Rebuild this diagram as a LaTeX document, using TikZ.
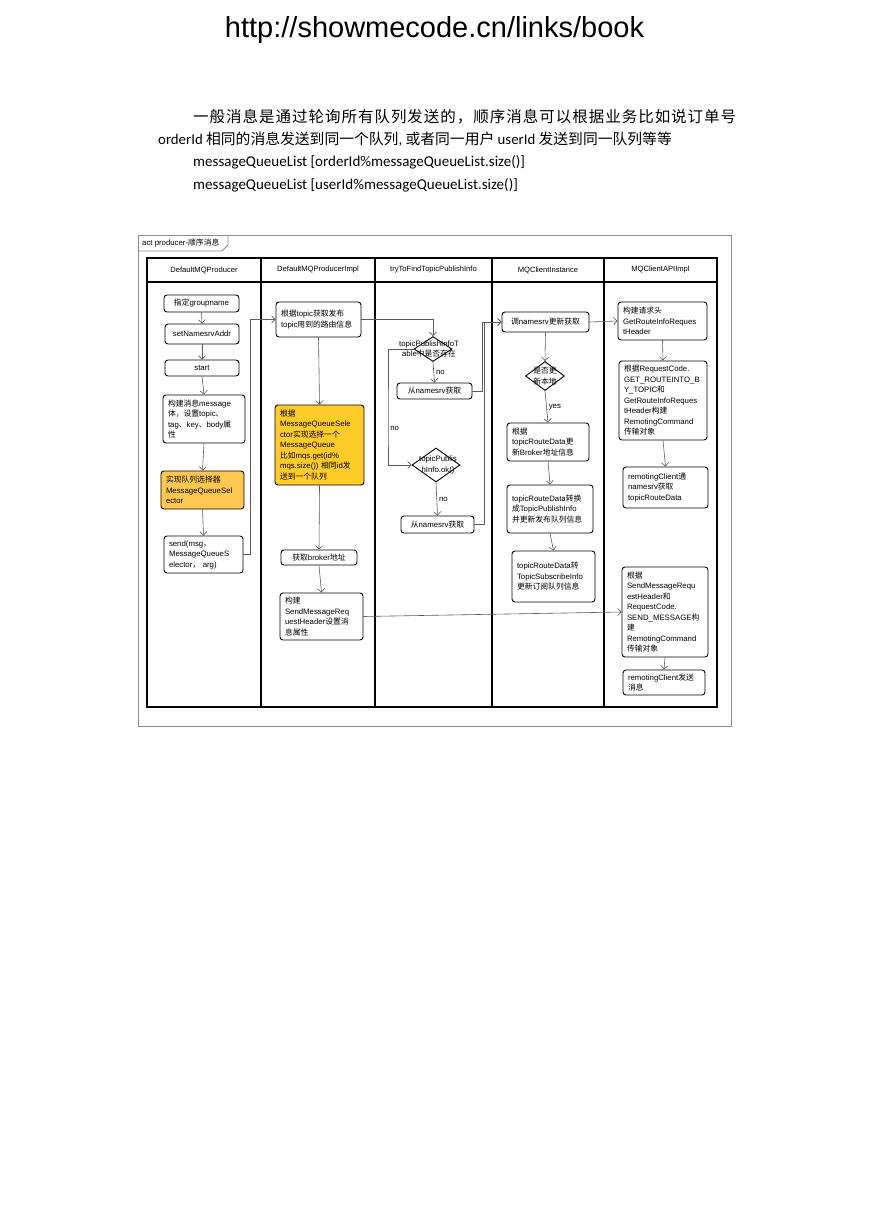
\documentclass[tikz,border=0pt]{standalone}
\usepackage{fontspec}
\setmainfont{Liberation Sans}
\newfontfamily\cjk{Noto Sans CJK SC}
\newfontfamily\calfont{Carlito}
\usetikzlibrary{arrows.meta,shapes.geometric}
\newcommand\zh[1]{{\cjk #1}}
\definecolor{orA}{RGB}{255,200,80}
\definecolor{orB}{RGB}{255,203,40}
\definecolor{cline}{RGB}{90,90,90}
\definecolor{framec}{RGB}{140,140,140}
\tikzset{
  box/.style={draw=black, line width=0.9pt, rounded corners=3pt, fill=white,
    inner xsep=5pt, inner ysep=1pt, font=\fontsize{7.8}{10.5}\selectfont,
    execute at begin node={\hyphenpenalty=10000\relax}},
  dia/.style={draw=black, line width=0.9pt, shape=diamond, inner sep=0pt, fill=white},
  lbl/.style={font=\fontsize{7.8}{10.5}\selectfont, inner sep=0pt},
  hdr/.style={font=\fontsize{7.6}{9}\selectfont, inner sep=0pt},
  arr/.style={draw=cline, line width=0.6pt, -{Straight Barb[length=3.5pt,width=7pt]}},
}
\newcommand\bx[7]{%
 \pgfmathsetmacro\bw{#4-#2}\pgfmathsetmacro\bh{#5-#3}\pgfmathsetmacro\tw{#4-#2-10}%
 \pgfmathsetmacro\cx{(#2+#4)/2}\pgfmathsetmacro\cy{(#3+#5)/2}%
 \node[box,#6,minimum width=\bw pt,minimum height=\bh pt,text width=\tw pt] (#1) at (\cx,\cy) {#7};}
\begin{document}
\begin{tikzpicture}[x=1pt,y=-1pt]
\useasboundingbox[fill=white] (0,0) rectangle (869,1228);

% ---- top text ----
\node[anchor=base, inner sep=0pt, font=\fontsize{29}{30}\selectfont] (title) at (434.5,38) {http://showmecode.cn/links/book};
\node[anchor=base west, inner sep=0pt, font=\fontsize{15.5}{17}\selectfont\cjk] (p1) at (193,122)
 {\hbox to 543pt{一\hfil 般\hfil 消\hfil 息\hfil 是\hfil 通\hfil 过\hfil 轮\hfil 询\hfil 所\hfil 有\hfil 队\hfil 列\hfil 发\hfil 送\hfil 的\hfil ，\hfil 顺\hfil 序\hfil 消\hfil 息\hfil 可\hfil 以\hfil 根\hfil 据\hfil 业\hfil 务\hfil 比\hfil 如\hfil 说\hfil 订\hfil 单\hfil 号}};
\node[anchor=base west, inner sep=0pt, font=\fontsize{14.8}{17}\selectfont\calfont] (p2) at (158,144)
 {orderId \zh{相同的消息发送到同一个队列}, \zh{或者同一用户} userId \zh{发送到同一队列等等}};
\node[anchor=base west, inner sep=0pt, font=\fontsize{15}{17}\selectfont\calfont] (p3) at (193,166)
 {messageQueueList [orderId\%messageQueueList.size()]};
\node[anchor=base west, inner sep=0pt, font=\fontsize{15}{17}\selectfont\calfont] (p4) at (193,189)
 {messageQueueList [userId\%messageQueueList.size()]};

% ---- frame ----
\draw[framec, line width=0.8pt] (138.5,235.5) rectangle (731.5,726.5);
\draw[framec, line width=0.8pt] (138.5,251) -- (222,251) -- (228,245) -- (228,235.5);
\node[lbl, anchor=west] (tab) at (142,243) {act producer-\zh{顺序消息}};

% ---- swimlanes ----
\draw[black, line width=1.2pt] (147,258) rectangle (717,707);
\draw[black, line width=1.2pt] (147,282) -- (717,282);
\foreach \xx in {261,375,492,604} \draw[black, line width=1.2pt] (\xx,258) -- (\xx,707);
\node[hdr] (h1) at (204,270) {DefaultMQProducer};
\node[hdr] (h2) at (318,270) {DefaultMQProducerImpl};
\node[hdr] (h3) at (433.5,270) {tryToFindTopicPublishInfo};
\node[hdr] (h4) at (548,270) {MQClientInstance};
\node[hdr] (h5) at (660.5,270) {MQClientAPIImpl};

% ---- lane 1 ----
\bx{gn}{164}{295}{239}{312}{align=center}{\zh{指定}groupname}
\bx{sna}{165}{324}{239}{344}{align=center}{setNamesrvAddr}
\bx{st}{165}{360}{239}{376}{align=center}{start}
\bx{bm}{163}{395}{245}{443}{align=left}{\zh{构建消息}message\\\zh{体，设置}topic\zh{、}\\tag\zh{、}key\zh{、}body\zh{属}\\\zh{性}}
\bx{impl}{161}{471}{244}{509}{align=left,fill=orA}{\zh{实现队列选择器}\\MessageQueueSel\\ector}
\bx{send}{164}{536}{243}{573}{align=left}{send(msg\zh{，}\\MessageQueueS\\elector\zh{，} arg)}

% ---- lane 2 ----
\bx{ts}{276}{302}{361}{337}{align=left}{\zh{根据}topic\zh{获取发布}\\topic\zh{用到的路由信息}}
\bx{sel}{275}{405}{364}{485}{align=left,fill=orB}{\zh{根据}\\MessageQueueSele\\ctor\zh{实现选择一个}\\MessageQueue\\\zh{比如}mqs.get(id\%\\mqs.size()) \zh{相同}id\zh{发}\\\zh{送到一个队列}}
\bx{gb}{281}{550}{357}{565}{align=center}{\zh{获取}broker\zh{地址}}
\bx{bh}{280}{593}{363}{640}{align=left}{\zh{构建}\\SendMessageReq\\uestHeader\zh{设置消}\\\zh{息属性}}

% ---- lane 3 ----
\node[dia, minimum width=38pt, minimum height=25pt] (d1) at (433,349) {};
\bx{r1}{397}{383}{472}{399}{align=center}{\zh{从}namesrv\zh{获取}}
\node[dia, minimum width=48pt, minimum height=34pt] (d2) at (436,465) {};
\bx{r2}{401}{516}{474}{533}{align=center}{\zh{从}namesrv\zh{获取}}

% ---- lane 4 ----
\bx{upd}{502}{312}{589}{332}{align=center}{\zh{调}namesrv\zh{更新获取}}
\node[dia, minimum width=39pt, minimum height=29pt] (d3) at (545,376) {};
\bx{rd}{507}{423}{589}{461}{align=left}{\zh{根据}\\topicRouteData\zh{更}\\\zh{新}Broker\zh{地址信息}}
\bx{conv}{507}{485}{593}{533}{align=left}{topicRouteData\zh{转换}\\\zh{成}TopicPublishInfo\\\zh{并更新发布队列信息}}
\bx{sub}{512}{551}{595}{602}{align=left}{topicRouteData\zh{转}\\TopicSubscribeInfo\\\zh{更新订阅队列信息}}

% ---- lane 5 ----
\bx{hd}{618}{302}{707}{340}{align=left}{\zh{构建请求头}\\GetRouteInfoReques\\tHeader}
\bx{rc}{619}{361}{707}{440}{align=left}{\zh{根据}RequestCode.\\GET\_ROUTEINTO\_B\\Y\_TOPIC\zh{和}\\GetRouteInfoReques\\tHeader\zh{构建}\\RemotingCommand\\\zh{传输对象}}
\bx{rcl}{623}{467}{708}{508}{align=left}{remotingClient\zh{通}\\namesrv\zh{获取}\\topicRouteData}
\bx{sm}{622}{567}{708}{657}{align=left}{\zh{根据}\\SendMessageRequ\\estHeader\zh{和}\\RequestCode.\\SEND\_MESSAGE\zh{构}\\\zh{建}\\RemotingCommand\\\zh{传输对象}}
\bx{rs}{623}{670}{705}{695}{align=left}{remotingClient\zh{发送}\\\zh{消息}}

% ---- connectors ----
\draw[arr] (gn.south) -- (sna.north);
\draw[arr] (sna.south) -- (st.north);
\draw[arr] (st.south) -- (bm.north);
\draw[arr] (bm.south) -- (impl.north);
\draw[arr] (impl.south) -- (send.north);
\draw[arr] (send.east) -- ++(7,0) |- (ts.west);

\draw[arr] (ts.south) -- (sel.north);
\draw[arr] (sel.south) -- (gb.north);
\draw[arr] (gb.south) -- (bh.north);
\draw[arr] (ts.east) -| (d1.north);

\draw[arr] (d1.south) -- (r1.north) node[midway, right=2pt, lbl] {no};
\coordinate (lp) at (388,428);
\draw[arr] (d1.west) -| (lp) node[lbl, right=2pt] {no} |- (d2.west);
\draw[arr] (d2.south) -- (r2.north) node[midway, right=2pt, lbl] {no};

\coordinate (j1) at (482,322);
\coordinate (j2) at (484.5,322);
\draw[arr] (r1.east) -| (j1) -- (upd.west);
\draw[arr] (r2.east) -| (j2) -- (upd.west);

\draw[arr] (upd.south) -- (d3.north);
\draw[arr] (d3.south) -- (rd.north) node[midway, right=2pt, lbl] {yes};
\draw[arr] (rd.south) -- (conv.north);
\draw[arr] (conv.south) -- (sub.north);
\draw[arr] (upd.east) -- (hd.west);

\draw[arr] (hd.south) -- (rc.north);
\draw[arr] (rc.south) -- (rcl.north);
\draw[arr] (bh.east) -- (sm.west);
\draw[arr] (sm.south) -- (rs.north);

% ---- diamond texts (drawn over the lines) ----
\node[lbl, align=center] (d1t) at (429,349) {topicPublishInfoT\\able\zh{中是否存在}};
\node[lbl, align=center] (d2t) at (438,465) {topicPublis\\hInfo.ok()};
\node[lbl, align=center] (d3t) at (545,376) {\zh{是否更}\\\zh{新本地}};
\end{tikzpicture}
\end{document}
